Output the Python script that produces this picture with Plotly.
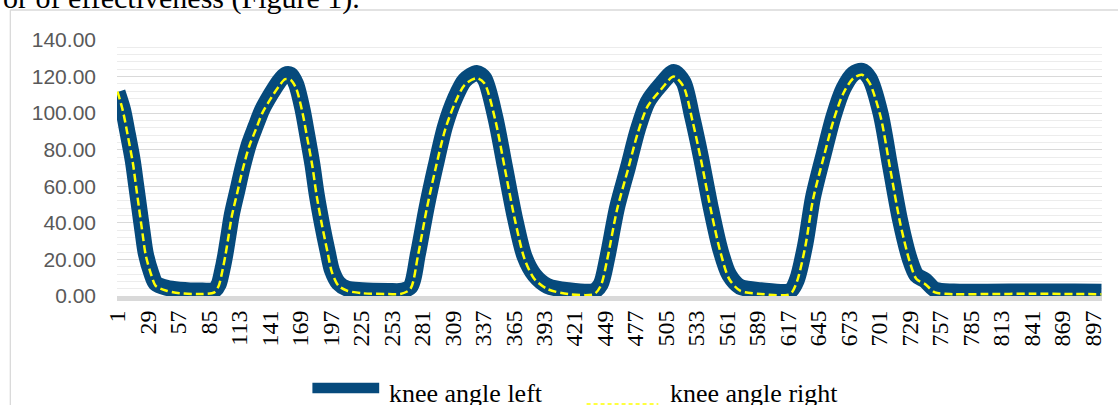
import plotly.graph_objects as go

# ---------------- data ----------------
sample_idx = [1, 6, 10, 15, 18, 21, 24, 27, 32, 36,
              46, 58, 79, 90, 94, 97, 100, 103, 106, 111,
              116, 122, 128, 134, 142, 149, 155, 160, 165, 171,
              175, 180, 184, 189, 194, 198, 204, 212, 226, 250,
              261, 270, 277, 285, 293, 302, 311, 320, 331, 338,
              348, 357, 366, 375, 384, 396, 415, 439, 445, 451,
              460, 470, 479, 488, 500, 512, 521, 529, 537, 546,
              555, 563, 573, 592, 619, 625, 633, 640, 650, 659,
              668, 677, 685, 692, 702, 711, 720, 729, 735, 743,
              752, 769, 800, 840, 880, 905]

knee_angle_right = [111.8, 101.0, 89.0, 73.0, 60.0, 47.0, 34.0, 22.0, 11.5, 5.6,
                    2.9, 1.5, 1.1, 2.0, 5.6, 12.9, 21.9, 32.8, 43.7, 56.5,
                    69.2, 81.9, 91.0, 100.0, 108.2, 114.5, 118.6, 118.2, 113.7, 100.0,
                    87.3, 71.0, 54.6, 38.3, 23.8, 12.9, 5.6, 2.9, 1.5, 1.1,
                    1.1, 3.8, 22.0, 47.4, 69.2, 91.0, 105.5, 115.5, 119.1, 116.4,
                    96.4, 69.2, 41.9, 20.2, 9.3, 3.8, 1.1, 1.1, 5.6, 20.2,
                    47.4, 69.2, 89.2, 103.7, 112.7, 120.0, 114.5, 96.4, 74.6, 47.4,
                    23.8, 9.3, 2.9, 1.1, 1.1, 7.5, 27.4, 52.8, 76.4, 96.4,
                    111.0, 119.1, 121.0, 116.4, 98.2, 69.2, 40.1, 18.4, 9.3, 6.5,
                    2.0, 1.0, 1.1, 1.2, 1.1, 1.0]

knee_angle_left = [111.5, 102.0, 90.0, 74.0, 61.0, 48.0, 35.0, 23.0, 12.5, 7.0,
                   4.5, 3.5, 3.0, 3.2, 6.5, 13.5, 22.5, 33.5, 44.5, 57.5,
                   70.5, 83.5, 93.0, 102.0, 110.5, 117.0, 121.0, 121.0, 116.0, 102.0,
                   89.0, 72.0, 55.5, 39.0, 24.5, 14.0, 7.0, 4.0, 3.2, 2.8,
                   2.8, 5.0, 23.0, 48.5, 70.5, 93.0, 108.0, 118.0, 122.0, 119.0,
                   98.0, 70.5, 43.0, 21.5, 11.5, 5.5, 3.2, 2.8, 6.5, 21.0,
                   48.5, 70.5, 91.0, 106.0, 115.5, 122.5, 117.0, 98.0, 76.0, 48.5,
                   25.0, 11.5, 5.0, 3.2, 2.8, 8.5, 28.5, 54.0, 78.0, 98.5,
                   113.5, 121.5, 123.2, 119.0, 100.0, 70.5, 41.5, 20.0, 11.5, 8.5,
                   3.5, 2.4, 2.3, 2.5, 2.4, 2.3]

x_tick_vals = list(range(1, 898, 28))
x_tick_text = [str(v) for v in x_tick_vals]
y_tick_vals = [0, 20, 40, 60, 80, 100, 120, 140]

series_names = ["knee angle left", "knee angle right"]

# ---------------- layout geometry ----------------
W, H = 1118, 405
ML, MR, MT, MB = 117, 13, 40, 109
PW, PH = W - ML - MR, H - MT - MB

def px_x(px):
    return (px - ML) / PW

def px_y(py):
    return (H - MB - py) / PH

BLUE = "#064a7c"
YELLOW = "#ffff00"

fig = go.Figure()
fig.add_trace(go.Scatter(
    x=sample_idx, y=knee_angle_left, mode="lines", name=series_names[0],
    line=dict(color=BLUE, width=16, shape="spline", smoothing=0.8),
    showlegend=False))
fig.add_trace(go.Scatter(
    x=sample_idx, y=knee_angle_right, mode="lines", name=series_names[1],
    line=dict(color=YELLOW, width=2.5, dash="8px,4px", shape="spline", smoothing=0.8),
    showlegend=False))

fig.update_layout(
    width=W, height=H, autosize=False,
    margin=dict(l=ML, r=MR, t=MT, b=MB, pad=0),
    paper_bgcolor="white", plot_bgcolor="white",
    xaxis=dict(
        range=[0.5, 905.5], tickmode="array", tickvals=x_tick_vals, ticktext=x_tick_text,
        tickangle=-90, showgrid=False, zeroline=False,
        showline=True, linecolor="#d9d9d9", linewidth=5,
        ticks="", tickfont=dict(family="Liberation Serif", size=24, color="black"),
    ),
    yaxis=dict(
        range=[0, 140], tickmode="array", tickvals=y_tick_vals, tickformat=".2f",
        showgrid=True, gridcolor="#d9d9d9", gridwidth=1.3, zeroline=False, showline=False,
        ticks="", ticklabelstandoff=20,
        tickfont=dict(family="Liberation Sans", size=21, color="#595959"),
        minor=dict(dtick=4, showgrid=True, gridcolor="#ececec", gridwidth=1),
    ),
)

shapes = [
    # chart-area border
    dict(type="line", xref="paper", yref="paper", x0=px_x(10), x1=px_x(1130),
         y0=px_y(10), y1=px_y(10), line=dict(color="#d9d9d9", width=1.3)),
    dict(type="line", xref="paper", yref="paper", x0=px_x(10), x1=px_x(10),
         y0=px_y(10), y1=px_y(420), line=dict(color="#d9d9d9", width=1.3)),
    # legend symbols
    dict(type="line", xref="paper", yref="paper", x0=px_x(313), x1=px_x(380),
         y0=px_y(388), y1=px_y(388), line=dict(color=BLUE, width=10.5)),
    dict(type="line", xref="paper", yref="paper", x0=px_x(588), x1=px_x(660),
         y0=px_y(404), y1=px_y(404), line=dict(color=YELLOW, width=1.5, dash="4px,3px")),
]
fig.update_layout(shapes=shapes)

annotations = [
    dict(text=series_names[0], xref="paper", yref="paper", x=px_x(388), y=px_y(393),
         xanchor="left", yanchor="middle", showarrow=False,
         font=dict(family="Liberation Serif", size=26, color="black")),
    dict(text=series_names[1], xref="paper", yref="paper", x=px_x(670), y=px_y(393),
         xanchor="left", yanchor="middle", showarrow=False,
         font=dict(family="Liberation Serif", size=26, color="black")),
    dict(text="or of effectiveness (Figure 1).", xref="paper", yref="paper",
         x=px_x(363), y=px_y(-2), xanchor="right", yanchor="middle", showarrow=False,
         font=dict(family="Liberation Serif", size=30, color="black")),
]
fig.update_layout(annotations=annotations)

fig.write_html("out.html")
